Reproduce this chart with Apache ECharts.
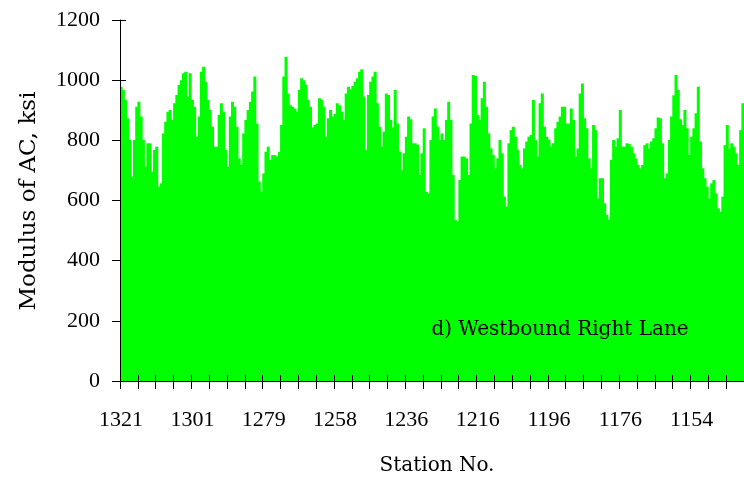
<!DOCTYPE html>
<html>
<head>
<meta charset="utf-8">
<title>Modulus of AC, Westbound Right Lane</title>
<script src="https://cdn.jsdelivr.net/npm/echarts@6/dist/echarts.min.js"></script>
<style>
  html, body { margin: 0; padding: 0; background: #ffffff; }
  #chart { width: 744px; height: 484px; }
</style>
</head>
<body>
<div id="chart"></div>
<script>
// Backcalculated AC modulus (ksi) at each test point, in survey order (stations decreasing)
const modulus = [
  978, 967, 934, 873, 801, 679, 801, 912, 928, 879,
  801, 712, 790, 790, 696, 768, 779, 646, 657, 823,
  862, 895, 901, 868, 923, 951, 984, 1000, 1023, 1028,
  945, 1023, 934, 912, 812, 879, 1028, 1045, 995, 934,
  901, 845, 779, 779, 884, 923, 895, 768, 712, 879,
  928, 912, 845, 740, 718, 823, 868, 901, 928, 962,
  1012, 856, 663, 629, 690, 762, 779,
  735, 751, 751, 746, 762, 851, 1012, 1078, 956, 917,
  912, 906, 895, 967, 1006, 1000, 984, 934, 912, 843,
  851, 856, 940, 934, 912, 812, 873, 901, 879, 888,
  923, 917, 895, 868, 956, 978, 970, 981, 995, 1006,
  1028, 1036, 945, 768, 951, 995, 1012, 1028, 923, 845,
  779, 829, 956, 951, 868, 843, 967, 856, 762, 701,
  757, 812, 879, 870, 790, 790, 785,
  685, 757, 840, 629, 624, 801, 879, 906, 845, 801,
  823, 801, 868, 928, 868, 685, 535, 530, 668, 746,
  746, 740, 685, 856, 1017, 1014, 884, 868, 940, 995,
  912, 823, 773, 751, 707, 740, 801, 757, 613, 580,
  790, 834, 845, 812, 768, 718, 707, 773, 796, 812,
  818, 934, 801, 746, 923, 956, 845, 812, 801, 779,
  790, 840, 862, 879, 912, 912, 856, 856,
  906, 868, 746, 773, 956, 989, 873, 840, 740, 707,
  851, 834, 607, 674, 674, 591, 552, 535, 735, 801,
  779, 807, 901, 779, 779, 790, 788, 779, 757, 740,
  718, 707,
  718, 784, 790, 773, 796, 807, 840, 876, 873, 790,
  674, 690, 801, 879, 950, 1017, 967, 870, 851, 901,
  840, 751, 812, 840, 890, 978, 796, 707, 674, 646,
  607, 657, 668, 624, 574, 563, 613, 784, 851, 773,
  790, 779, 757, 718, 834, 923
];

// Station numbers printed under every 32nd test point
const stationLabels = ['1321', '1301', '1279', '1258', '1236', '1216', '1196', '1176', '1154'];
const pointsPerLabel = 32;
const pointsPerTick = 8;

// Category list: a station number at each labelled point, blank elsewhere
const categories = modulus.map((_, i) =>
  i % pointsPerLabel === 0 ? (stationLabels[i / pointsPerLabel] || '') : ''
);

const yTicks = { min: 0, max: 1200, interval: 200 };

const serif = '"Liberation Serif", "Times New Roman", serif';
const textSerif = '"DejaVu Serif", "Liberation Serif", serif';

const chart = echarts.init(document.getElementById('chart'), null, { renderer: 'canvas' });

chart.setOption({
  animation: false,
  backgroundColor: '#ffffff',
  grid: { left: 120, right: 0, top: 20, bottom: 103, containLabel: false },
  xAxis: [
    {
      type: 'category',
      data: categories,
      boundaryGap: true,
      position: 'bottom',
      z: 10,
      axisLine: { show: true, lineStyle: { color: '#000', width: 1 } },
      axisTick: { show: true, inside: false, length: 8, interval: pointsPerTick - 1,
                  lineStyle: { color: '#000', width: 1 } },
      axisLabel: { show: true, interval: pointsPerLabel - 1, margin: 28,
                   fontFamily: serif, fontSize: 22, color: '#000' },
      splitLine: { show: false }
    },
    {
      // upward half of the crossing tick marks, drawn over the bars
      type: 'category',
      data: categories,
      boundaryGap: true,
      position: 'bottom',
      z: 10,
      axisLine: { show: false },
      axisTick: { show: true, inside: true, length: 6, interval: pointsPerTick - 1,
                  lineStyle: { color: '#000', width: 1 } },
      axisLabel: { show: false },
      splitLine: { show: false }
    }
  ],
  yAxis: [
    {
      type: 'value',
      min: yTicks.min, max: yTicks.max, interval: yTicks.interval,
      position: 'left',
      z: 10,
      axisLine: { show: true, lineStyle: { color: '#000', width: 1 } },
      axisTick: { show: true, inside: false, length: 8, lineStyle: { color: '#000', width: 1 } },
      axisLabel: { show: true, margin: 20, fontFamily: serif, fontSize: 22, color: '#000',
                   formatter: (v) => String(v) },
      splitLine: { show: false }
    },
    {
      // right-hand half of the crossing tick marks, hidden behind the bars
      type: 'value',
      min: yTicks.min, max: yTicks.max, interval: yTicks.interval,
      position: 'left',
      z: 0,
      axisLine: { show: false },
      axisTick: { show: true, inside: true, length: 6, lineStyle: { color: '#000', width: 1 } },
      axisLabel: { show: false },
      splitLine: { show: false }
    }
  ],
  series: [
    {
      type: 'bar',
      xAxisIndex: 0,
      yAxisIndex: 0,
      data: modulus,
      // slightly wider than the band so neighbouring bars merge into one solid fill
      barWidth: 3,
      barGap: '-100%',
      z: 2,
      itemStyle: { color: '#00ff00' },
      emphasis: { disabled: true }
    }
  ],
  graphic: [
    {
      type: 'text',
      x: 29, y: 201,
      rotation: Math.PI / 2,
      style: { text: 'Modulus of AC, ksi', font: '23px ' + textSerif, fill: '#000',
               align: 'center', verticalAlign: 'middle' }
    },
    {
      type: 'text',
      x: 437, y: 466,
      style: { text: 'Station No.', font: '20px ' + textSerif, fill: '#000',
               align: 'center', verticalAlign: 'middle' }
    },
    {
      type: 'text',
      x: 560, y: 330, z: 20,
      style: { text: 'd) Westbound Right Lane', font: '20px ' + textSerif, fill: '#000',
               align: 'center', verticalAlign: 'middle' }
    }
  ]
});
</script>
</body>
</html>
